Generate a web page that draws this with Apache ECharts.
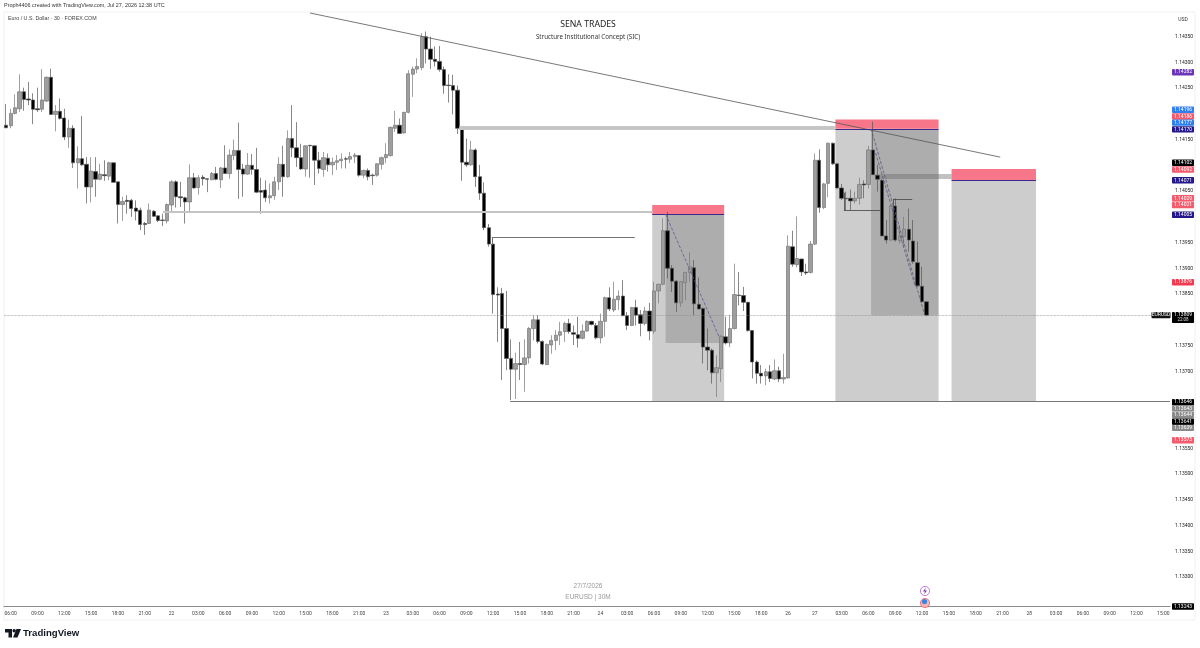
<!DOCTYPE html>
<html>
<head>
<meta charset="utf-8">
<title>EURUSD 30M</title>
<script src="https://cdn.jsdelivr.net/npm/echarts@6/dist/echarts.min.js"></script>
<style>
html, body { margin: 0; padding: 0; background: #fff; }
#chart { width: 1200px; height: 648px; }
</style>
</head>
<body>
<div id="chart"></div>
<script>
// candles, oldest first
var opens = [1.14178,1.14177,1.14201,1.14210,1.14243,1.14229,1.14227,1.14210,1.14209,1.14225,1.14271,1.14199,1.14205,1.14192,1.14155,1.14172,1.14105,1.14113,1.14102,1.14058,1.14088,1.14073,1.14082,1.14079,1.14105,1.14068,1.14024,1.14032,1.14032,1.14017,1.14013,1.13987,1.13987,1.14011,1.14002,1.13994,1.13992,1.14023,1.14068,1.14039,1.14037,1.14029,1.14076,1.14057,1.14077,1.14074,1.14072,1.14084,1.14072,1.14095,1.14084,1.14119,1.14129,1.14093,1.14083,1.14100,1.14092,1.14051,1.14052,1.14037,1.14041,1.14068,1.14102,1.14078,1.14152,1.14134,1.14115,1.14093,1.14139,1.14138,1.14110,1.14092,1.14114,1.14101,1.14106,1.14109,1.14113,1.14112,1.14117,1.14119,1.14081,1.14090,1.14081,1.14081,1.14102,1.14115,1.14119,1.14172,1.14178,1.14163,1.14203,1.14277,1.14287,1.14290,1.14350,1.14326,1.14306,1.14302,1.14286,1.14256,1.14255,1.14246,1.14172,1.14106,1.14101,1.14130,1.14078,1.14046,1.13979,1.13947,1.13850,1.13851,1.13783,1.13725,1.13704,1.13715,1.13713,1.13726,1.13783,1.13800,1.13758,1.13713,1.13751,1.13760,1.13770,1.13777,1.13793,1.13775,1.13771,1.13764,1.13778,1.13797,1.13789,1.13765,1.13797,1.13843,1.13819,1.13839,1.13846,1.13808,1.13789,1.13824,1.13810,1.13793,1.13817,1.13778,1.13856,1.13869,1.13973,1.13900,1.13875,1.13833,1.13872,1.13892,1.13901,1.13830,1.13822,1.13747,1.13741,1.13697,1.13705,1.13767,1.13755,1.13783,1.13848,1.13847,1.13834,1.13779,1.13718,1.13696,1.13691,1.13699,1.13685,1.13701,1.13685,1.13687,1.13942,1.13907,1.13918,1.13893,1.13892,1.13947,1.14110,1.14018,1.14065,1.14143,1.14103,1.14056,1.14036,1.14036,1.14031,1.14036,1.14064,1.14063,1.14130,1.14081,1.14071,1.13963,1.13955,1.14021,1.13954,1.13962,1.13976,1.13953,1.13911,1.13865,1.13835];
var closes = [1.14173,1.14201,1.14212,1.14243,1.14228,1.14227,1.14209,1.14208,1.14227,1.14271,1.14199,1.14205,1.14191,1.14155,1.14172,1.14105,1.14113,1.14101,1.14058,1.14089,1.14073,1.14083,1.14080,1.14105,1.14067,1.14024,1.14030,1.14030,1.14016,1.14011,1.13985,1.13985,1.14013,1.14001,1.13993,1.13993,1.14024,1.14068,1.14039,1.14037,1.14029,1.14076,1.14056,1.14076,1.14074,1.14073,1.14084,1.14073,1.14095,1.14084,1.14120,1.14129,1.14092,1.14083,1.14100,1.14092,1.14048,1.14048,1.14037,1.14041,1.14068,1.14102,1.14078,1.14152,1.14134,1.14115,1.14093,1.14138,1.14138,1.14110,1.14094,1.14115,1.14101,1.14106,1.14109,1.14112,1.14112,1.14117,1.14120,1.14081,1.14090,1.14078,1.14080,1.14103,1.14115,1.14121,1.14174,1.14178,1.14162,1.14203,1.14278,1.14287,1.14292,1.14350,1.14326,1.14306,1.14302,1.14286,1.14255,1.14255,1.14246,1.14172,1.14106,1.14101,1.14130,1.14078,1.14046,1.13979,1.13947,1.13849,1.13848,1.13783,1.13725,1.13704,1.13715,1.13713,1.13726,1.13783,1.13800,1.13758,1.13714,1.13752,1.13760,1.13770,1.13777,1.13793,1.13777,1.13772,1.13764,1.13778,1.13797,1.13791,1.13765,1.13797,1.13843,1.13821,1.13840,1.13846,1.13808,1.13789,1.13824,1.13809,1.13793,1.13817,1.13778,1.13856,1.13869,1.13973,1.13900,1.13875,1.13833,1.13874,1.13892,1.13903,1.13831,1.13821,1.13747,1.13741,1.13697,1.13707,1.13768,1.13755,1.13783,1.13849,1.13847,1.13834,1.13779,1.13718,1.13696,1.13691,1.13699,1.13686,1.13701,1.13685,1.13688,1.13943,1.13908,1.13919,1.13893,1.13891,1.13947,1.14110,1.14018,1.14064,1.14143,1.14103,1.14056,1.14036,1.14035,1.14031,1.14036,1.14063,1.14062,1.14130,1.14082,1.14073,1.13963,1.13955,1.14021,1.13955,1.13963,1.13976,1.13955,1.13913,1.13866,1.13835,1.13809];
var lows = [1.14173,1.14172,1.14199,1.14204,1.14206,1.14217,1.14180,1.14204,1.14204,1.14223,1.14199,1.14166,1.14189,1.14149,1.14134,1.14095,1.14055,1.14099,1.14026,1.14028,1.14039,1.14071,1.14070,1.14071,1.14066,1.13987,1.13992,1.14006,1.14000,1.13993,1.13974,1.13965,1.13986,1.14000,1.13990,1.13982,1.13987,1.14011,1.14018,1.14019,1.13987,1.14010,1.14055,1.14043,1.14061,1.14048,1.14072,1.14071,1.14056,1.14084,1.14074,1.14110,1.14035,1.14039,1.14082,1.14082,1.14046,1.14006,1.14029,1.14026,1.14033,1.14052,1.14039,1.14076,1.14116,1.14097,1.14091,1.14078,1.14076,1.14062,1.14084,1.14078,1.14088,1.14081,1.14091,1.14094,1.14094,1.14104,1.14104,1.14078,1.14075,1.14071,1.14062,1.14078,1.14092,1.14104,1.14117,1.14165,1.14161,1.14162,1.14201,1.14233,1.14279,1.14285,1.14298,1.14287,1.14292,1.14282,1.14239,1.14222,1.14199,1.14161,1.14070,1.14097,1.14099,1.14058,1.14033,1.13974,1.13942,1.13812,1.13757,1.13683,1.13702,1.13644,1.13646,1.13683,1.13660,1.13715,1.13760,1.13754,1.13712,1.13712,1.13734,1.13741,1.13751,1.13757,1.13773,1.13751,1.13746,1.13762,1.13777,1.13789,1.13762,1.13754,1.13767,1.13817,1.13815,1.13819,1.13807,1.13780,1.13788,1.13789,1.13768,1.13789,1.13760,1.13773,1.13832,1.13867,1.13880,1.13854,1.13815,1.13825,1.13838,1.13874,1.13809,1.13820,1.13715,1.13702,1.13676,1.13650,1.13679,1.13752,1.13747,1.13781,1.13828,1.13817,1.13777,1.13686,1.13676,1.13676,1.13673,1.13679,1.13683,1.13679,1.13676,1.13686,1.13903,1.13902,1.13885,1.13887,1.13890,1.13945,1.14008,1.14015,1.14038,1.14101,1.14055,1.14033,1.14013,1.14013,1.14026,1.14024,1.14036,1.14055,1.14081,1.14049,1.13963,1.13948,1.13953,1.13952,1.13948,1.13942,1.13932,1.13909,1.13864,1.13833,1.13807];
var highs = [1.14219,1.14210,1.14238,1.14277,1.14251,1.14262,1.14240,1.14251,1.14287,1.14273,1.14288,1.14217,1.14230,1.14210,1.14189,1.14178,1.14137,1.14196,1.14116,1.14116,1.14116,1.14103,1.14110,1.14107,1.14105,1.14068,1.14039,1.14042,1.14035,1.14032,1.14018,1.13990,1.14026,1.14013,1.14003,1.14006,1.14026,1.14071,1.14071,1.14068,1.14039,1.14102,1.14085,1.14081,1.14081,1.14074,1.14087,1.14097,1.14097,1.14139,1.14131,1.14150,1.14183,1.14103,1.14124,1.14122,1.14134,1.14076,1.14071,1.14065,1.14078,1.14116,1.14138,1.14168,1.14217,1.14184,1.14142,1.14139,1.14139,1.14138,1.14126,1.14126,1.14123,1.14115,1.14120,1.14123,1.14117,1.14126,1.14124,1.14120,1.14092,1.14094,1.14084,1.14104,1.14117,1.14143,1.14175,1.14206,1.14191,1.14204,1.14285,1.14292,1.14308,1.14357,1.14360,1.14350,1.14331,1.14332,1.14292,1.14277,1.14276,1.14255,1.14174,1.14152,1.14148,1.14133,1.14101,1.14067,1.13986,1.13960,1.13863,1.13862,1.13856,1.13762,1.13736,1.13757,1.13762,1.13786,1.13809,1.13809,1.13760,1.13754,1.13770,1.13780,1.13796,1.13796,1.13802,1.13789,1.13806,1.13791,1.13799,1.13798,1.13794,1.13812,1.13845,1.13863,1.13874,1.13857,1.13877,1.13815,1.13825,1.13839,1.13819,1.13825,1.13833,1.13874,1.13870,1.13997,1.14010,1.13906,1.13877,1.13875,1.13893,1.13931,1.13916,1.13882,1.13824,1.13783,1.13744,1.13731,1.13770,1.13806,1.13809,1.13909,1.13893,1.13864,1.13835,1.13780,1.13721,1.13712,1.13705,1.13712,1.13723,1.13709,1.13734,1.13964,1.13973,1.14001,1.13919,1.13909,1.13953,1.14123,1.14131,1.14066,1.14144,1.14144,1.14104,1.14064,1.14049,1.14053,1.14049,1.14076,1.14071,1.14138,1.14185,1.14101,1.14073,1.13994,1.14023,1.14036,1.13984,1.14000,1.14016,1.13994,1.13952,1.13903,1.13835];

// bottom axis labels, one every 6 bars starting at bar 1
var timeLabels = ['06:00','09:00','12:00','15:00','18:00','21:00','22','03:00','06:00','09:00','12:00','15:00','18:00','21:00','23','03:00','06:00','09:00','12:00','15:00','18:00','21:00','24','03:00','06:00','09:00','12:00','15:00','18:00','26','27','03:00','06:00','09:00','12:00','15:00','18:00','21:00','28','03:00','06:00','09:00','12:00','15:00'];
var priceTicks = [1.133,1.1335,1.134,1.1345,1.135,1.1355,1.137,1.1375,1.1385,1.139,1.1395,1.1405,1.1415,1.1425,1.143,1.1435];
var BAR_SLOTS = 261; // chart keeps empty room right of the last candle

// price tags on the right, stacked so price here is where the tag sits
var tagPrices = [1.14281,1.14208,1.14195,1.14183,1.14170,1.14105,1.14092,1.14071,1.14036,1.14023,1.14004,1.13873,1.13640,1.13628,1.13615,1.13602,1.13590,1.13566];
var tagLabels = ['1.14282','1.14196','1.14186','1.14177','1.14170','1.14102','1.14092','1.14071','1.14029','1.14021','1.14005','1.13876','1.13646','1.13643','1.13644','1.13641','1.13639','1.13573'];
var tagColors = ['#6b37b8','#2e7ff0','#f45b6c','#2e7ff0','#24188a','#000000','#f45b6c','#24188a','#f45b6c','#f45b6c','#24188a','#f23b50','#000000','#8a8a8a','#8a8a8a','#000000','#8a8a8a','#f45b6c'];

var categories = [];
for (var i = 0; i < BAR_SLOTS; i++) {
    categories.push(i % 6 === 1 ? timeLabels[(i - 1) / 6] : '');
}

var candles = [];
for (var j = 0; j < opens.length; j++) {
    candles.push([opens[j], closes[j], lows[j], highs[j]]);
}

function zone(x0, p0, x1, p1, color) {
    return [{ coord: [x0, p0], itemStyle: { color: color } }, { coord: [x1, p1] }];
}

function seg(x0, p0, x1, p1, color, width, type) {
    return [
        { coord: [x0, p0], lineStyle: { color: color, width: width, type: type || 'solid' } },
        { coord: [x1, p1] }
    ];
}

var RED = 'rgba(246,72,98,0.75)';
var LIGHT = 'rgba(60,60,60,0.26)';
var DARK = 'rgba(60,60,60,0.22)';
var PURPLE = '#3a2a8a';

var zones = [
    zone(144.6, 1.14005, 160.7, 1.13641, LIGHT),
    zone(147.6, 1.14005, 160.7, 1.13755, DARK),
    zone(144.6, 1.14023, 160.7, 1.14005, RED),
    zone(185.6, 1.14171, 208.7, 1.13641, LIGHT),
    zone(193.6, 1.14171, 208.7, 1.13809, DARK),
    zone(185.6, 1.14189, 208.7, 1.14171, RED),
    zone(211.6, 1.14071, 230.5, 1.13641, LIGHT),
    zone(211.6, 1.14093, 230.5, 1.14071, RED)
];

var lines = [
    seg(68, 1.14396, 222.5, 1.14116, '#555', 0.8),
    seg(101.4, 1.14174, 185.6, 1.14174, '#c6c6c6', 4),
    seg(35.1, 1.14009, 144.6, 1.14009, '#c4c4c4', 2),
    seg(108.7, 1.1396, 140.7, 1.1396, '#666', 0.9),
    seg(108.7, 1.1396, 108.7, 1.13945, '#666', 0.9),
    seg(112.8, 1.13641, 260.5, 1.13641, '#777', 1.2),
    seg(187.5, 1.14012, 195.6, 1.14012, '#444', 0.8),
    seg(187.5, 1.14012, 187.5, 1.14047, '#444', 0.8),
    seg(198.5, 1.14034, 202.8, 1.14034, '#444', 0.8),
    seg(198.5, 1.14034, 198.5, 1.1402, '#444', 0.8),
    seg(195.6, 1.14078, 211.6, 1.14078, 'rgba(100,100,100,0.4)', 5),
    seg(144.6, 1.14005, 160.7, 1.14005, PURPLE, 1),
    seg(185.6, 1.14171, 208.7, 1.14171, PURPLE, 1),
    seg(211.6, 1.14071, 230.5, 1.14071, PURPLE, 1),
    seg(147.6, 1.14005, 159.5, 1.13768, '#5a5a96', 0.8, 'dashed'),
    seg(193.6, 1.14171, 205.6, 1.13809, '#5a5a7a', 0.8, 'dashed'),
    seg(194.6, 1.14124, 203.4, 1.13867, '#5a5a7a', 0.8, 'dashed'),
    seg(-0.5, closes[closes.length - 1], 260.5, closes[closes.length - 1], '#8a8a8a', 0.7, 'dotted')
];

function renderTag(params, api) {
    var y = api.coord([0, api.value(0)])[1];
    var x = params.coordSys.x + params.coordSys.width + 2;
    return {
        type: 'group',
        children: [
            { type: 'rect', shape: { x: x, y: y - 3.2, width: 22, height: 6.4, r: 0.8 }, style: { fill: tagColors[params.dataIndex] } },
            { type: 'text', style: { x: x + 11, y: y, text: tagLabels[params.dataIndex], fill: '#fff', font: '5px Roboto', align: 'center', verticalAlign: 'middle' } }
        ]
    };
}

function text(left, top, str, size, color, weight, align) {
    return {
        type: 'text', left: left, top: top, z: 20,
        style: { text: str, font: (weight || 'normal') + ' ' + size + 'px "Liberation Sans"', fill: color, textAlign: align || 'left' }
    };
}

var graphics = [
    { type: 'rect', shape: { x: 4, y: 12, width: 1191, height: 608 }, style: { fill: 'none', stroke: '#f0f0f0', lineWidth: 1 }, z: 0 },
    text(4, 3, 'Proph4406 created with TradingView.com, Jul 27, 2026 12:38 UTC', 5.45, '#333'),
    text(8, 16, 'Euro / U.S. Dollar · 30 · FOREX.COM', 5.3, '#444'),
    { type: 'text', x: 588, y: 20, z: 20, style: { text: 'SENA TRADES', font: '8.7px "Noto Sans"', fill: '#222', textAlign: 'center' } },
    { type: 'text', x: 588, y: 34, z: 20, style: { text: 'Structure Institutional Concept (SIC)', font: '6.2px "Noto Sans"', fill: '#333', textAlign: 'center' } },
    { type: 'text', x: 588, y: 583, z: 20, style: { text: '27/7/2026', font: '6.5px "Liberation Sans"', fill: '#999', textAlign: 'center' } },
    { type: 'text', x: 588, y: 594, z: 20, style: { text: 'EURUSD | 30M', font: '6.5px "Liberation Sans"', fill: '#999', textAlign: 'center' } },
    { type: 'text', x: 1183, y: 17, z: 20, style: { text: 'USD', font: '5px Roboto', fill: '#333', textAlign: 'center' } },
    // event icons
    { type: 'circle', shape: { cx: 925, cy: 591, r: 4.6 }, style: { fill: '#fff', stroke: '#b45fd2', lineWidth: 0.8 }, z: 20 },
    { type: 'polygon', shape: { points: [[926, 587.5], [923, 591.5], [925, 591.5], [924, 594.5], [927, 590.5], [925, 590.5]] }, style: { fill: '#7a3fa0' }, z: 21 },
    { type: 'circle', shape: { cx: 925, cy: 603, r: 4.6 }, style: { fill: '#f7b6b6', stroke: '#e8626a', lineWidth: 0.8 }, z: 20 },
    { type: 'circle', shape: { cx: 924.5, cy: 601.5, r: 2.6 }, style: { fill: '#3d86e0' }, z: 21 },
    // tradingview logo
    { type: 'polygon', shape: { points: [[5, 629], [12, 629], [12, 637.5], [8.5, 637.5], [8.5, 632.5], [5, 632.5]] }, style: { fill: '#131722' }, z: 20 },
    { type: 'circle', shape: { cx: 14.2, cy: 630.8, r: 1.7 }, style: { fill: '#131722' }, z: 20 },
    { type: 'polygon', shape: { points: [[16.5, 629], [21, 629], [17.5, 637.5], [13, 637.5]] }, style: { fill: '#131722' }, z: 20 },
    text(23, 628, 'TradingView', 9.6, '#131722', 'bold')
];

var option = {
    animation: false,
    backgroundColor: '#fff',
    grid: { left: 4, right: 30, top: 13, bottom: 41.5 },
    graphic: graphics,
    xAxis: [
        {
            type: 'category',
            data: categories,
            boundaryGap: true,
            axisLine: { lineStyle: { color: '#8c8c8c', width: 1.2 } },
            axisTick: { show: false },
            axisLabel: {
                interval: function (idx) { return idx % 6 === 1; },
                color: '#444', fontSize: 5, margin: 5, fontFamily: 'Roboto'
            },
            splitLine: { show: false }
        },
        { type: 'value', min: -0.5, max: BAR_SLOTS - 0.5, show: false, splitLine: { show: false } }
    ],
    yAxis: {
        type: 'value',
        position: 'right',
        min: 1.13243,
        max: 1.14396,
        scale: true,
        axisLine: { show: false },
        axisTick: { show: false },
        splitLine: { show: false },
        axisLabel: {
            customValues: priceTicks,
            formatter: function (v) { return v.toFixed(5); },
            color: '#222', fontSize: 5, margin: 5, fontFamily: 'Roboto'
        }
    },
    series: [
        {
            type: 'candlestick',
            name: 'EURUSD',
            data: candles,
            barWidth: 3.8,
            z: 2,
            itemStyle: {
                color: '#9e9e9e',
                color0: '#000000',
                borderColor: '#777777',
                borderColor0: '#555555',
                borderColorDoji: '#666666',
                borderWidth: 0.7
            }
        },
        {
            type: 'line',
            xAxisIndex: 1,
            data: [],
            z: 3,
            silent: true,
            markArea: { silent: true, data: zones },
            markLine: { silent: true, symbol: 'none', label: { show: false }, data: lines }
        },
        {
            type: 'custom',
            xAxisIndex: 0,
            z: 10,
            clip: false,
            silent: true,
            renderItem: renderTag,
            encode: { y: 0 },
            data: tagPrices.map(function (p) { return [p]; })
        }
    ]
};

var chart = echarts.init(document.getElementById('chart'));
chart.setOption(option);

// tags that are not a plain price label
var grid = chart.getModel().getComponent('grid').coordinateSystem.getRect();
var py = function (p) { return chart.convertToPixel({ yAxisIndex: 0 }, p); };
var nowY = py(closes[closes.length - 1]);
var bottomY = py(1.13243);
chart.setOption({
    graphic: graphics.concat([
        { type: 'rect', shape: { x: grid.x + grid.width - 18.5, y: nowY - 3.2, width: 19, height: 6.4, r: 0.8 }, style: { fill: '#111' }, z: 22 },
        { type: 'text', x: grid.x + grid.width - 9, y: nowY - 2.5, z: 23, style: { text: 'EURUSD', font: '5px Roboto', fill: '#fff', textAlign: 'center' } },
        { type: 'rect', shape: { x: grid.x + grid.width + 2, y: nowY - 3.2, width: 22, height: 11, r: 0.8 }, style: { fill: '#000' }, z: 22 },
        { type: 'text', x: grid.x + grid.width + 13, y: nowY - 2.5, z: 23, style: { text: '1.13809', font: '5px Roboto', fill: '#fff', textAlign: 'center' } },
        { type: 'text', x: grid.x + grid.width + 13, y: nowY + 2.5, z: 23, style: { text: '22:08', font: '4.5px Roboto', fill: '#ddd', textAlign: 'center' } },
        { type: 'rect', shape: { x: grid.x + grid.width + 2, y: bottomY - 3.2, width: 22, height: 6.4, r: 0.8 }, style: { fill: '#000' }, z: 22 },
        { type: 'text', x: grid.x + grid.width + 13, y: bottomY - 2.5, z: 23, style: { text: '1.13243', font: '5px Roboto', fill: '#fff', textAlign: 'center' } }
    ])
});
</script>
</body>
</html>
